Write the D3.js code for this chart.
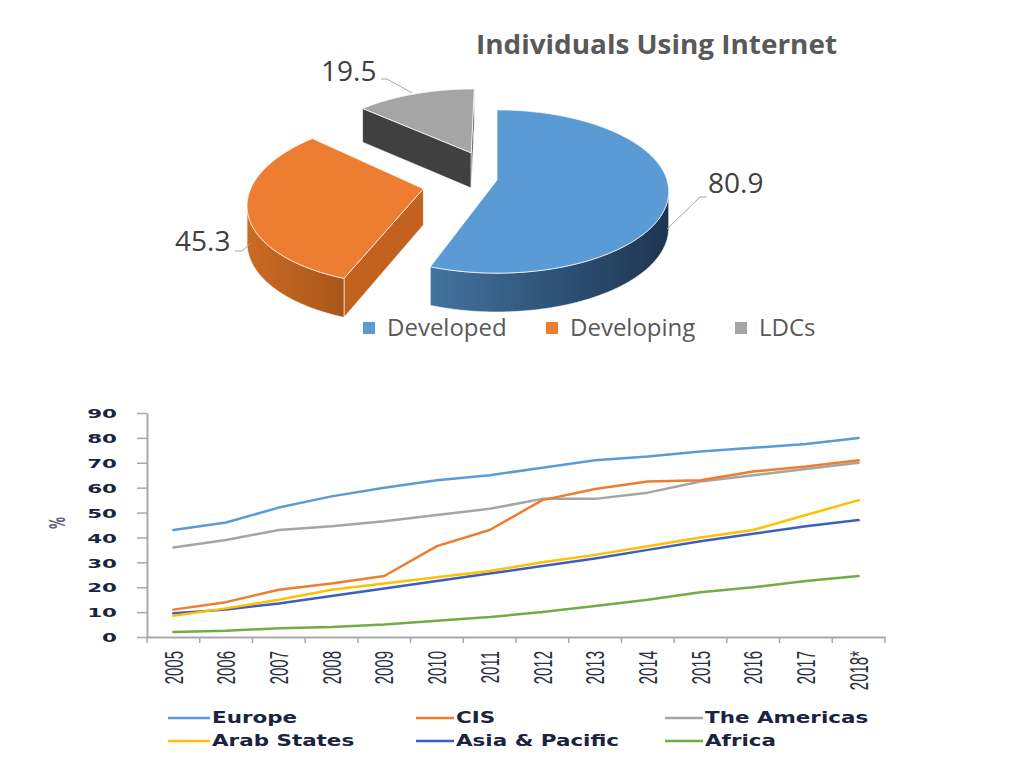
<!DOCTYPE html>
<html>
<head>
<meta charset="utf-8">
<script src="https://cdn.jsdelivr.net/npm/d3@7/dist/d3.min.js"></script>
<style>
  html, body { margin: 0; padding: 0; background: #ffffff; }
  svg { display: block; }
</style>
</head>
<body>
<svg id="chart" width="1024" height="768"></svg>
<script>
// ---------------- DATA ----------------
const pieTitle = "Individuals Using Internet";
const pieCategories = ["Developed", "Developing", "LDCs"];
const pieValues = [80.9, 45.3, 19.5];

const years = ["2005","2006","2007","2008","2009","2010","2011","2012","2013","2014","2015","2016","2017","2018*"];
const europe      = [43, 46, 52, 56.5, 60, 63, 65, 68, 71, 72.5, 74.5, 76, 77.5, 80];
const cis         = [11, 14, 19, 21.5, 24.5, 36.5, 43, 55, 59.5, 62.5, 63, 66.5, 68.5, 71];
const americas    = [36, 39, 43, 44.5, 46.5, 49, 51.5, 55.5, 55.5, 58, 62.5, 65, 67.5, 70];
const arabStates  = [8.5, 11.5, 15, 19, 21.5, 24, 26.5, 30, 33, 36.5, 40, 43, 49, 55];
const asiaPacific = [9.5, 11, 13.5, 16.5, 19.5, 22.5, 25.5, 28.5, 31.5, 35, 38.5, 41.5, 44.5, 47];
const africa      = [2, 2.5, 3.5, 4, 5, 6.5, 8, 10, 12.5, 15, 18, 20, 22.5, 24.5];
const seriesNames = ["Europe", "CIS", "The Americas", "Arab States", "Asia & Pacific", "Africa"];
const yTicks = [0, 10, 20, 30, 40, 50, 60, 70, 80, 90];
const yLabel = "%";

// ---------------- STYLE ----------------
const svg = d3.select("#chart");
const sliceStyle = [
  { top: "#5b9bd5", wallA: "#43739f", wallB: "#1d3450", face: "#2f5680", explode: 0.0 },
  { top: "#ed7d31", wallA: "#cb6a22", wallB: "#a9561b", face: "#c3621f", explode: 0.44 },
  { top: "#a5a5a5", wallA: "#444444", wallB: "#3a3a3a", face: "#404040", explode: 0.39 }
];
const seriesColors = ["#5b9bd5", "#ed7d31", "#a5a5a5", "#ffc000", "#3a5fc0", "#70ad47"];

// ---------------- 3D PIE ----------------
const P = { X0: 497, Y0: 180, A: 170, B: 80, k: 0.141, H: 36 };
function proj(u, v, down) {
  const w = 1 - P.k * v;
  return [P.X0 + P.A * u / w, P.Y0 + P.B * v / w + (down ? P.H / Math.sqrt(w) : 0)];
}
function area(pts) {
  let s = 0;
  for (let i = 0; i < pts.length; i++) {
    const a = pts[i], b = pts[(i + 1) % pts.length];
    s += a[0] * b[1] - b[0] * a[1];
  }
  return s / 2;
}
const line = d3.line();
const arcs = d3.pie().sort(null).value(d => d)(pieValues);

const defs = svg.append("defs");
sliceStyle.forEach((st, i) => {
  const g = defs.append("linearGradient").attr("id", "wall" + i)
    .attr("gradientUnits", "userSpaceOnUse")
    .attr("x1", i === 0 ? 430 : 248).attr("x2", i === 0 ? 672 : 345)
    .attr("y1", 0).attr("y2", 0);
  g.append("stop").attr("offset", "0%").attr("stop-color", st.wallA);
  g.append("stop").attr("offset", "100%").attr("stop-color", st.wallB);
});

const pieG = svg.append("g");
const drawOrder = [2, 1, 0];
drawOrder.forEach(i => {
  const a = arcs[i], st = sliceStyle[i];
  const mid = (a.startAngle + a.endAngle) / 2;
  const cu = st.explode * Math.sin(mid), cv = -st.explode * Math.cos(mid);
  const rim = (t, down) => proj(cu + Math.sin(t), cv - Math.cos(t), down);
  const apexT = proj(cu, cv, false), apexB = proj(cu, cv, true);
  const n = Math.max(8, Math.ceil((a.endAngle - a.startAngle) / (Math.PI / 360)));
  const ts = d3.range(n + 1).map(j => a.startAngle + (a.endAngle - a.startAngle) * j / n);
  const g = pieG.append("g");
  const stroke = "rgba(255,255,255,0.75)";

  // radial faces
  const f1 = [apexT, rim(a.startAngle, false), rim(a.startAngle, true), apexB];
  const f2 = [apexT, apexB, rim(a.endAngle, true), rim(a.endAngle, false)];
  [f1, f2].forEach(f => {
    if (area(f) < 0) {
      g.append("path").attr("d", line(f) + "Z").attr("fill", st.face)
        .attr("stroke", stroke).attr("stroke-width", 0.8).attr("stroke-linejoin", "round");
    }
  });
  // outer wall visible runs
  let run = [];
  const runs = [];
  for (let j = 0; j < n; j++) {
    const q = [rim(ts[j], false), rim(ts[j + 1], false), rim(ts[j + 1], true), rim(ts[j], true)];
    if (area(q) < 0) { if (!run.length) run.push(j); run.push(j + 1); }
    else if (run.length) { runs.push(run); run = []; }
  }
  if (run.length) runs.push(run);
  runs.forEach(r => {
    const topPts = r.map(j => rim(ts[j], false));
    const botPts = r.map(j => rim(ts[j], true)).reverse();
    g.append("path").attr("d", line(topPts.concat(botPts)) + "Z")
      .attr("fill", "url(#wall" + i + ")")
      .attr("stroke", stroke).attr("stroke-width", 0.8).attr("stroke-linejoin", "round");
  });
  // top face
  const topFace = [apexT].concat(ts.map(t => rim(t, false)));
  g.append("path").attr("d", line(topFace) + "Z").attr("fill", st.top)
    .attr("stroke", stroke).attr("stroke-width", 1).attr("stroke-linejoin", "round");
});

// title
svg.append("text").attr("x", 476).attr("y", 54)
  .attr("font-family", "'Open Sans', sans-serif").attr("font-weight", 700)
  .attr("font-size", 27).attr("fill", "#595959")
  .attr("textLength", 361).attr("lengthAdjust", "spacingAndGlyphs").text(pieTitle);

// data labels with leader lines
const labelFmt = d3.format(".1f");
const pieLabels = [
  { i: 0, x: 708, y: 193, lead: [[707, 197], [700, 197], [667, 229]] },
  { i: 1, x: 175, y: 251, lead: [[235, 251], [242, 251], [251, 243]] },
  { i: 2, x: 321, y: 81, lead: [[381, 79], [387, 79], [412, 93]] }
];
pieLabels.forEach(l => {
  svg.append("path").attr("d", line(l.lead)).attr("fill", "none")
    .attr("stroke", "#a6a6a6").attr("stroke-width", 1);
  svg.append("text").attr("x", l.x).attr("y", l.y)
    .attr("font-family", "'Open Sans', sans-serif").attr("font-size", 28)
    .attr("fill", "#404040").text(labelFmt(pieValues[l.i]));
});

// pie legend
const pieLegX = [363, 546, 735];
pieCategories.forEach((c, i) => {
  svg.append("rect").attr("x", pieLegX[i]).attr("y", 322).attr("width", 12).attr("height", 12)
    .attr("fill", sliceStyle[i].top);
  svg.append("text").attr("x", pieLegX[i] + 24).attr("y", 336)
    .attr("font-family", "'Open Sans', sans-serif").attr("font-size", 24)
    .attr("fill", "#595959").text(c);
});

// ---------------- LINE CHART ----------------
const x = d3.scaleBand().domain(years).range([147, 885]);
const y = d3.scaleLinear().domain([0, 90]).range([637, 413]);
const xc = d => x(d) + x.bandwidth() / 2;
const axisColor = "#a9a9a9";

// y axis
const yAxis = svg.append("g").attr("transform", "translate(147,0)")
  .call(d3.axisLeft(y).tickValues(yTicks).tickSize(10).tickSizeOuter(0));
yAxis.select(".domain").attr("stroke", axisColor).attr("stroke-width", 2);
yAxis.selectAll(".tick line").attr("stroke", axisColor).attr("stroke-width", 1.5);
const ySx = 1.65;
yAxis.selectAll(".tick text")
  .attr("x", -30 / ySx).attr("dy", "0.36em")
  .attr("transform", `scale(${ySx},1)`)
  .attr("font-family", "'DejaVu Sans', sans-serif").attr("font-weight", 700)
  .attr("font-size", 13).attr("fill", "#1c2340");

// x axis
const xAxis = svg.append("g").attr("transform", "translate(0,637)")
  .call(d3.axisBottom(x).tickSize(0).tickSizeOuter(0).tickFormat(""));
xAxis.select(".domain").attr("stroke", axisColor).attr("stroke-width", 2);
svg.append("g").selectAll("line").data(years.concat([null])).join("line")
  .attr("x1", (d, i) => i < years.length ? x(d) : x.range()[1])
  .attr("x2", (d, i) => i < years.length ? x(d) : x.range()[1])
  .attr("y1", 637).attr("y2", 643)
  .attr("stroke", axisColor).attr("stroke-width", 1.5);
svg.append("g").selectAll("text").data(years).join("text")
  .attr("transform", d => `translate(${xc(d)},651) scale(1.7,1) rotate(-90)`)
  .attr("text-anchor", "end").attr("dy", "0.36em")
  .attr("font-family", "'Liberation Sans', sans-serif").attr("font-size", 15)
  .attr("fill", "#2b2f3f").text(d => d);

// y label
svg.append("text").attr("transform", "translate(58,523) scale(1.7,1) rotate(-90)")
  .attr("text-anchor", "middle").attr("dy", "0.36em")
  .attr("font-family", "'DejaVu Sans', sans-serif").attr("font-weight", 700)
  .attr("font-size", 12).attr("fill", "#5a5a78").text(yLabel);

// lines
const allSeries = [europe, cis, americas, arabStates, asiaPacific, africa];
const lineGen = d3.line().x((d, i) => xc(years[i])).y(d => y(d));
const drawSeq = [5, 4, 3, 2, 1, 0];
drawSeq.forEach(i => {
  svg.append("path").datum(allSeries[i]).attr("d", lineGen)
    .attr("fill", "none").attr("stroke", seriesColors[i])
    .attr("stroke-width", 2.5).attr("stroke-linejoin", "round").attr("stroke-linecap", "round");
});

// legend
const legCols = [[168, 210], [416, 454], [665, 703]];
const legRows = [718, 741];
seriesNames.forEach((s, i) => {
  const col = legCols[i % 3], row = legRows[Math.floor(i / 3)];
  svg.append("line").attr("x1", col[0]).attr("x2", col[1]).attr("y1", row).attr("y2", row)
    .attr("stroke", seriesColors[i]).attr("stroke-width", 2.5);
  svg.append("text").attr("transform", `translate(${col[1] + 2},${row}) scale(1.43,1)`)
    .attr("dy", "0.36em")
    .attr("font-family", "'DejaVu Sans', sans-serif").attr("font-weight", 700)
    .attr("font-size", 15).attr("fill", "#1c2340").text(s);
});
</script>
</body>
</html>
